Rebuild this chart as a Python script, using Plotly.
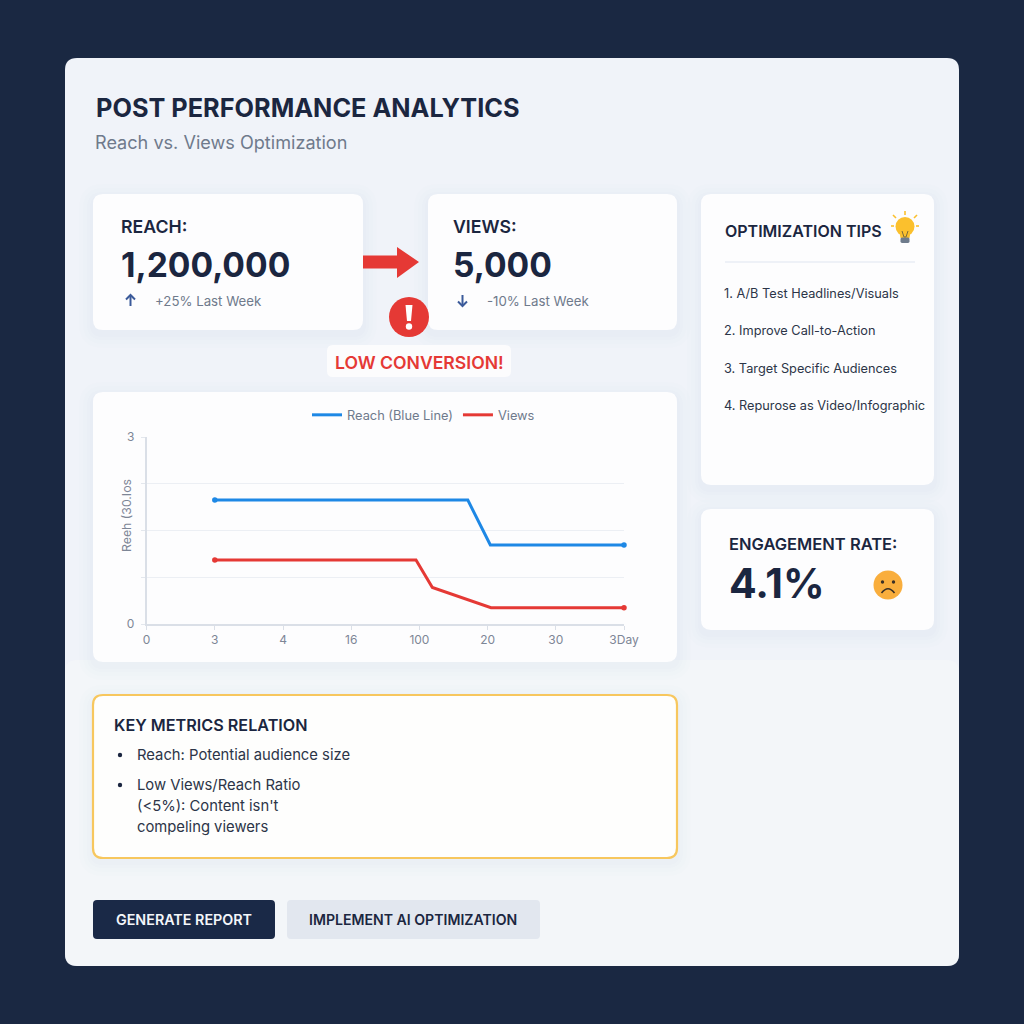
import plotly.graph_objects as go

# ---------- data ----------
x_tick_labels = ["0", "3", "4", "16", "100", "20", "30", "3Day"]
x_tick_index = [0, 1, 2, 3, 4, 5, 6, 7]
y_tick_vals = [0, 1, 2, 3, 4]
y_tick_labels = ["0", "", "", "", "3"]

reach_x = [1, 4.71, 5.04, 7]
reach_y = [2.65, 2.65, 1.69, 1.69]
views_x = [1, 3.95, 4.19, 5.05, 7]
views_y = [1.37, 1.37, 0.78, 0.35, 0.35]

tips = ["1. A/B Test Headlines/Visuals", "2. Improve Call-to-Action",
        "3. Target Specific Audiences", "4. Repurose as Video/Infographic"]

W = H = 1024
NAVY = "#1A2842"
INK = "#1B2640"
GREY = "#6F7A8C"
RED = "#E53935"
BLUE = "#1E88E5"
FONT = "Inter"


def px(x):
    return x / W


def py(y):
    return 1 - y / H


def rr_path(x0, y0, x1, y1, r):
    pts = [("M", x0 + r, y0), ("L", x1 - r, y0), ("Q", x1, y0, x1, y0 + r),
           ("L", x1, y1 - r), ("Q", x1, y1, x1 - r, y1), ("L", x0 + r, y1),
           ("Q", x0, y1, x0, y1 - r), ("L", x0, y0 + r), ("Q", x0, y0, x0 + r, y0)]
    out = []
    for p in pts:
        cmd, vals = p[0], p[1:]
        coords = []
        for i in range(0, len(vals), 2):
            coords.append(f"{px(vals[i]):.5f},{py(vals[i+1]):.5f}")
        out.append(cmd + " " + " ".join(coords))
    return " ".join(out) + " Z"


def poly(points, fill, line=None, width=0):
    d = "M " + " L ".join(f"{px(a):.5f},{py(b):.5f}" for a, b in points) + " Z"
    return dict(type="path", xref="paper", yref="paper", path=d, fillcolor=fill,
                line=dict(color=line or fill, width=width), layer="below")


def open_path(points, color, width):
    d = "M " + " L ".join(f"{px(a):.5f},{py(b):.5f}" for a, b in points)
    return dict(type="path", xref="paper", yref="paper", path=d,
                line=dict(color=color, width=width), layer="below")


def rect(x0, y0, x1, y1, r, fill, line=None, width=0):
    return dict(type="path", xref="paper", yref="paper", path=rr_path(x0, y0, x1, y1, r),
                fillcolor=fill, line=dict(color=line or fill, width=width), layer="below")


def circle(cx, cy, r, fill):
    return dict(type="circle", xref="paper", yref="paper", x0=px(cx - r), x1=px(cx + r),
                y0=py(cy + r), y1=py(cy - r), fillcolor=fill, line=dict(width=0), layer="below")


def card(x0, y0, x1, y1, r=10, fill="#FDFDFE", line=None, width=0):
    out = []
    for g, op in ((14, 0.007), (10, 0.008), (6, 0.010), (3, 0.012)):
        out.append(rect(x0 - g, y0 - g + 4, x1 + g, y1 + g + 4, r + g, f"rgba(60,80,130,{op})"))
    out.append(rect(x0, y0, x1, y1, r, fill, line, width))
    return out


def text(x, y, s, size, color=INK, weight=400, anchor="left"):
    return dict(x=px(x - 2), y=py(y), xref="paper", yref="paper", text=s, showarrow=False,
                xanchor=anchor, yanchor="middle", align="left",
                font=dict(family=FONT, size=size, color=color, weight=weight))


shapes = [rect(65, 58, 959, 966, 12, "#F0F3F9")]
# soft lightening of the lower panel
shapes.append(rect(65, 660, 959, 966, 12, "rgba(246,248,250,0.55)"))
shapes += card(93, 194, 363, 330)
shapes += card(428, 194, 677, 330)
shapes += card(701, 194, 934, 485)
shapes += card(701, 509, 934, 630)
shapes += card(93, 392, 677, 662)
shapes += card(93, 695, 677, 858, 10, "#FEFEFD", "#F7C75E", 2.2)
# big arrow
shapes.append(poly([(363, 255.5), (397, 255.5), (397, 247), (419, 262), (397, 278), (397, 268.5), (363, 268.5)], RED))
# alert badge
shapes.append(circle(409, 317, 20, RED))
shapes.append(poly([(405.5, 305), (412.5, 305), (411, 321), (407, 321)], "#FFFFFF"))
shapes.append(circle(409, 326.5, 3.2, "#FFFFFF"))
shapes.append(rect(327, 345, 511, 377, 6, "#FCFCFD"))
# small arrows
for ax, up in ((130.5, True), (462.5, False)):
    ctr = 300.5
    s = -1 if up else 1
    shapes.append(open_path([(ax, ctr - 5.5 * s), (ax, ctr + 5.5 * s)], "#3B5A9A", 2))
    shapes.append(open_path([(ax - 4.5, ctr + 1 * s), (ax, ctr + 5.5 * s), (ax + 4.5, ctr + 1 * s)], "#3B5A9A", 2))
# tips divider
shapes.append(open_path([(725, 262), (915, 262)], "#E9EDF4", 1.6))
# bulb
shapes.append(circle(905, 226.5, 9.5, "#FBC02D"))
shapes.append(poly([(899, 230), (911, 230), (909.5, 238), (900.5, 238)], "#FBC02D"))
shapes.append(open_path([(902, 231), (904, 237), (906, 237), (908, 231)], "#7A6A3A", 1))
shapes.append(rect(900.5, 237.5, 909.5, 243, 1.5, "#6E7B8C"))
for a, b, c, d in ((905, 211, 905, 215), (893, 215, 896, 218), (917, 215, 914, 218),
                   (891, 226, 894, 226), (916, 226, 919, 226)):
    shapes.append(open_path([(a, b), (c, d)], "#FBC02D", 1.6))
# sad face
shapes.append(circle(888, 585, 14.5, "#F9AE3D"))
shapes.append(circle(882.5, 582, 1.7, "#3A3026"))
shapes.append(circle(893.5, 582, 1.7, "#3A3026"))
shapes.append(dict(type="path", xref="paper", yref="paper",
                   path=f"M {px(881.5):.5f},{py(593):.5f} Q {px(888):.5f},{py(584.5):.5f} {px(894.5):.5f},{py(593):.5f}",
                   line=dict(color="#3A3026", width=1.6), layer="below"))
# bullets
shapes.append(circle(120, 755, 2.2, INK))
shapes.append(circle(120, 785, 2.2, INK))
# buttons
shapes.append(rect(93, 900, 275, 939, 4, "#1A2947"))
shapes.append(rect(287, 900, 540, 939, 4, "#E2E7EF"))

annotations = [
    text(96, 107.5, "POST PERFORMANCE ANALYTICS", 25.3, INK, 700),
    text(95, 142, "Reach vs. Views Optimization", 18.1, GREY),
    text(121, 226, "REACH:", 17.7, INK, 600),
    text(121, 264, "1,200,000", 33.6, INK, 700),
    text(155, 301, "+25% Last Week", 13.25, GREY),
    text(453, 226, "VIEWS:", 17.7, INK, 600),
    text(453, 264, "5,000", 33.6, INK, 700),
    text(487, 301, "-10% Last Week", 13.25, GREY),
    text(335, 362, "LOW CONVERSION!", 17.6, RED, 600),
    text(725, 231, "OPTIMIZATION TIPS", 16, INK, 600),
    text(729, 544, "ENGAGEMENT RATE:", 16.5, INK, 600),
    text(729, 583, "4.1%", 41, INK, 700),
    text(114, 725, "KEY METRICS RELATION", 16.2, INK, 600),
    text(137, 755, "Reach: Potential audience size", 14.8, "#2C3548"),
    text(137, 785, "Low Views/Reach Ratio", 14.8, "#2C3548"),
    text(137, 806, "(&lt;5%): Content isn't", 14.8, "#2C3548"),
    text(137, 827, "compeling viewers", 14.8, "#2C3548"),
    text(116, 919.5, "GENERATE REPORT", 14.3, "#F4F6FA", 600),
    text(309, 919.5, "IMPLEMENT AI OPTIMIZATION", 14.1, INK, 600),
    dict(x=px(126), y=py(516), xref="paper", yref="paper", text="Reeh (30.Ios", showarrow=False,
         textangle=-90, xanchor="center", yanchor="middle",
         font=dict(family=FONT, size=12.3, color="#7D8696")),
]
for i, t in enumerate(tips):
    annotations.append(text(724, 293 + i * 37.6, t, 12.75, "#2C3548"))

fig = go.Figure()
fig.add_trace(go.Scatter(x=reach_x, y=reach_y, mode="lines", name="Reach (Blue Line)",
                         line=dict(color=BLUE, width=3)))
fig.add_trace(go.Scatter(x=views_x, y=views_y, mode="lines", name="Views",
                         line=dict(color=RED, width=3)))
fig.add_trace(go.Scatter(x=[reach_x[0], reach_x[-1]], y=[reach_y[0], reach_y[-1]], mode="markers",
                         showlegend=False, cliponaxis=False, marker=dict(color=BLUE, size=5.5)))
fig.add_trace(go.Scatter(x=[views_x[0], views_x[-1]], y=[views_y[0], views_y[-1]], mode="markers",
                         showlegend=False, cliponaxis=False, marker=dict(color=RED, size=5.5)))

fig.update_layout(
    width=W, height=H, margin=dict(l=0, r=0, t=0, b=0, autoexpand=False), autosize=False,
    paper_bgcolor=NAVY, plot_bgcolor="rgba(0,0,0,0)",
    shapes=shapes, annotations=annotations, hovermode=False,
    font=dict(family=FONT, color="#7D8696", size=12),
    legend=dict(orientation="h", x=px(307), y=py(415), xanchor="left", yanchor="middle",
                bgcolor="rgba(0,0,0,0)", font=dict(size=12.8, color="#6F7A8C"),
                itemwidth=30),
    xaxis=dict(domain=[px(146.6), px(624)], range=[0, 7], tickvals=x_tick_index,
               ticktext=x_tick_labels, showgrid=False, zeroline=False, showline=True,
               automargin=False,
               linecolor="#DADFE7", linewidth=1.5, ticks="outside", ticklen=4,
               tickcolor="#DADFE7", tickfont=dict(size=12, color="#7D8696")),
    yaxis=dict(domain=[py(624), py(437)], range=[0, 4], tickvals=y_tick_vals,
               ticktext=y_tick_labels, showgrid=True, gridcolor="#ECEFF4", gridwidth=1,
               automargin=False, ticklabelstandoff=4,
               zeroline=False, showline=True, linecolor="#DADFE7", linewidth=1.5,
               ticks="outside", ticklen=4, tickcolor="#E3E7ED",
               tickfont=dict(size=12, color="#7D8696")),
)

fig.write_html("out.html", config=dict(displayModeBar=False),
               post_script="document.body.style.margin='0';document.body.style.background='#1A2842';document.documentElement.style.overflow='hidden';")
